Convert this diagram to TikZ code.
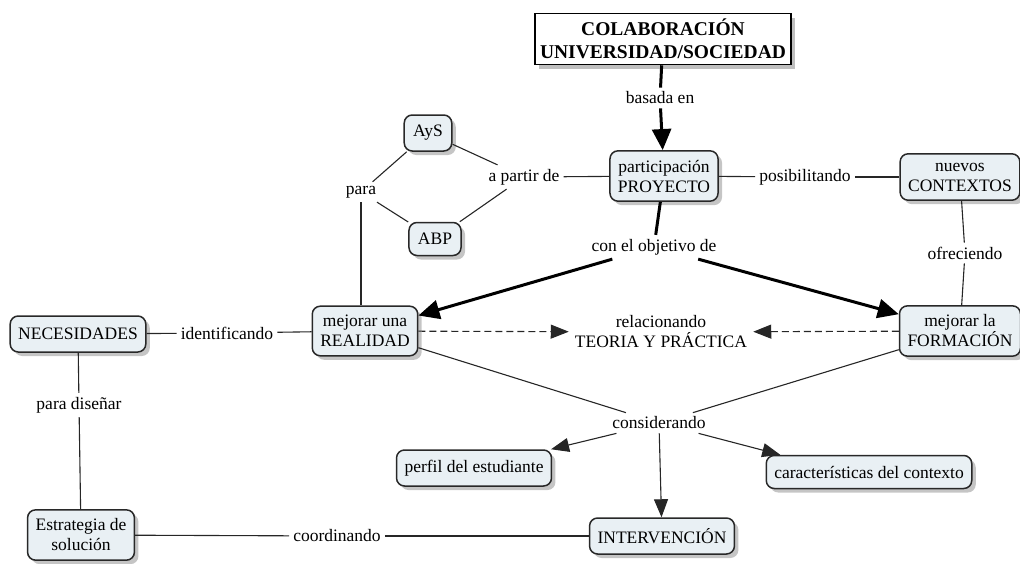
\documentclass[tikz,border=0pt]{standalone}
\usepackage{fontspec}
\setmainfont{Liberation Serif}
\usetikzlibrary{arrows.meta,shadows}
\definecolor{conceptFill}{RGB}{233,240,244}
\definecolor{conceptLine}{RGB}{40,40,40}
\newcommand{\mapFont}[0]{\fontsize{17.5}{20}\selectfont}
\newcommand{\titleFont}[0]{\bfseries\fontsize{19.5}{23}\selectfont}

\begin{document}
\begin{tikzpicture}[x=1pt, y=-1pt, font=\mapFont]
  \tikzset{concept/.style={draw=conceptLine, line width=1.5pt, fill=conceptFill,
      rounded corners=8pt, align=center, inner xsep=8pt, inner ysep=9pt,
      minimum height=36pt,
      drop shadow={shadow xshift=4pt, shadow yshift=-4pt, fill=black!45}},
    mapTitle/.style={draw=black, line width=1.6pt, fill=white, align=center,
      font=\titleFont, minimum width=256pt, minimum height=51pt,
      drop shadow={shadow xshift=4pt, shadow yshift=-4pt, fill=black!50}},
    linkText/.style={align=center, inner sep=4pt},
    connector/.style={line width=1.1pt, draw=black!85},
    smallArrow/.style={connector, -{Triangle[length=18pt, width=14pt]}},
    bigArrow/.style={line width=3pt, -{Triangle[length=21pt, width=19pt]}},
    dashArrow/.style={connector, dash pattern=on 7pt off 4pt,
      -{Triangle[length=18pt, width=14pt]}}}
  \useasboundingbox (0,0) rectangle (1020,563);

  \node[mapTitle] (colab) at (663,39) {COLABORACIÓN\\UNIVERSIDAD/SOCIEDAD};
  \node[linkText] (basada) at (660,98) {basada en};
  \node[concept] (part) at (664,176) {participación\\PROYECTO};
  \node[linkText] (posib) at (805,177) {posibilitando};
  \node[concept] (nuevos) at (960,177) {nuevos\\CONTEXTOS};
  \node[linkText] (ofrec) at (965,253) {ofreciendo};
  \node[concept] (form) at (960,331) {mejorar la\\FORMACIÓN};
  \node[linkText] (apartir) at (524,177) {a partir de};
  \node[concept, inner xsep=9pt] (ays) at (428,133) {AyS};
  \node[concept, inner xsep=9pt, minimum height=33pt] (abp) at (435,239) {ABP};
  \node[linkText] (para) at (361,192) {para};
  \node[linkText] (obj) at (654,247) {con el objetivo de};
  \node[concept] (real) at (365,331) {mejorar una\\REALIDAD};
  \node[concept] (neces) at (78,334) {NECESIDADES};
  \node[linkText] (ident) at (227,333) {identificando};
  \node[linkText] (disenar) at (79,405) {para diseñar};
  \node[concept] (estrat) at (81,535) {Estrategia de\\solución};
  \node[linkText] (coord) at (337,536) {coordinando};
  \node[concept] (interv) at (662,536) {INTERVENCIÓN};
  \node[linkText, inner xsep=6pt] (rel) at (661,332) {relacionando\\TEORIA Y PRÁCTICA};
  \node[linkText] (cons) at (659,423) {considerando};
  \node[concept] (perfil) at (474,468) {perfil del estudiante};
  \node[concept, minimum height=33pt] (caract) at (869,472) {características del contexto};

  \draw[line width=3pt] (colab) -- (basada);
  \draw[bigArrow] (basada) -- (part);
  \draw[connector] (part) -- (posib);
  \draw[connector] (posib) -- (nuevos);
  \draw[connector] (nuevos) -- (ofrec);
  \draw[connector] (ofrec) -- (form);
  \draw[connector] (part) -- (apartir);
  \draw[connector] (apartir) -- (ays);
  \draw[connector] (apartir) -- (abp);
  \draw[connector] (ays) -- (para);
  \draw[connector] (abp) -- (para);
  \draw[connector] (para) -- (para |- real.north);
  \draw[line width=3pt] (part) -- (obj);
  \draw[bigArrow] (obj) -- (real);
  \draw[bigArrow] (obj) -- (form);
  \draw[connector] (neces) -- (ident);
  \draw[connector] (ident) -- (real);
  \draw[connector] (neces) -- (disenar);
  \draw[connector] (disenar) -- (estrat);
  \draw[connector] (estrat) -- (coord);
  \draw[connector] (coord) -- (interv);
  \draw[dashArrow] (real) -- (rel);
  \draw[dashArrow] (form) -- (rel);
  \draw[connector] (real) -- (cons);
  \draw[connector] (form) -- (cons);
  \draw[smallArrow] (cons) -- (perfil);
  \draw[smallArrow] (cons) -- (caract.169);
  \draw[smallArrow] (cons) -- (interv);
\end{tikzpicture}
\end{document}
